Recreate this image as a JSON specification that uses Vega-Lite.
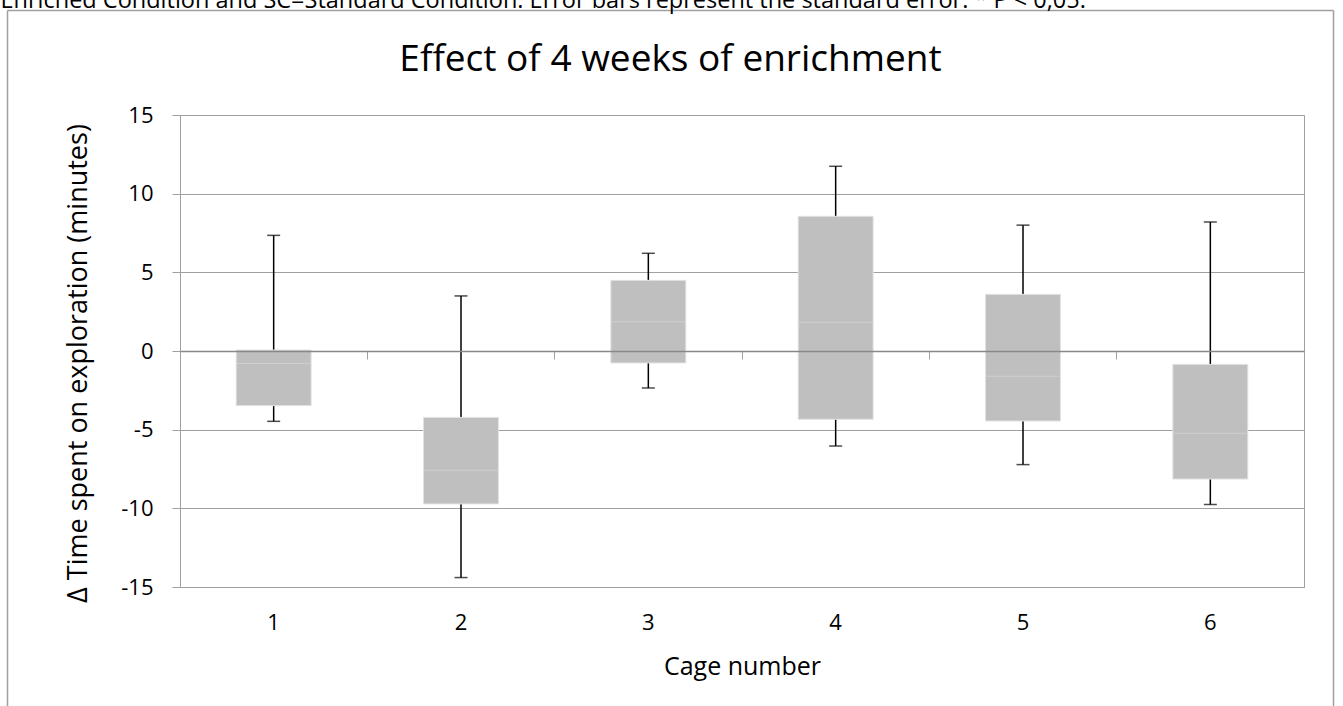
{
  "$schema": "https://vega.github.io/schema/vega-lite/v6.json",
  "width": 1124,
  "height": 472,
  "autosize": {"type": "none"},
  "padding": {"left": 180, "top": 115, "right": 39, "bottom": 119},
  "background": "white",
  "config": {
    "font": "Open Sans",
    "view": {"stroke": "#a0a0a0", "strokeWidth": 1},
    "axis": {"labelFont": "Open Sans", "titleFont": "Open Sans", "labelColor": "#000", "titleColor": "#000", "titleFontWeight": "normal"}
  },
  "data": {
    "values": [
      {"cage": 1, "min": -4.47, "q1": -3.47, "median": -0.79, "q3": 0.06, "max": 7.35},
      {"cage": 2, "min": -14.4, "q1": -9.72, "median": -7.58, "q3": -4.22, "max": 3.5},
      {"cage": 3, "min": -2.35, "q1": -0.76, "median": 1.86, "q3": 4.49, "max": 6.21},
      {"cage": 4, "min": -6.04, "q1": -4.34, "median": 1.82, "q3": 8.56, "max": 11.74},
      {"cage": 5, "min": -7.22, "q1": -4.45, "median": -1.61, "q3": 3.6, "max": 8.0},
      {"cage": 6, "min": -9.75, "q1": -8.14, "median": -5.23, "q3": -0.85, "max": 8.2}
    ]
  },
  "layer": [
    {
      "layer": [
        {
          "mark": {"type": "rule", "color": "#000", "strokeWidth": 1.5},
          "encoding": {
            "x": {"field": "cage", "type": "ordinal", "scale": {"paddingInner": 0, "paddingOuter": 0}, "axis": null},
            "y": {"field": "min", "type": "quantitative", "scale": {"domain": [-15, 15], "nice": false}, "axis": null},
            "y2": {"field": "max"}
          }
        },
        {
          "mark": {"type": "tick", "color": "#000", "thickness": 1.5, "size": 13},
          "encoding": {
            "x": {"field": "cage", "type": "ordinal", "scale": {"paddingInner": 0, "paddingOuter": 0}, "axis": null},
            "y": {"field": "max", "type": "quantitative", "axis": null}
          }
        },
        {
          "mark": {"type": "tick", "color": "#000", "thickness": 1.5, "size": 13},
          "encoding": {
            "x": {"field": "cage", "type": "ordinal", "scale": {"paddingInner": 0, "paddingOuter": 0}, "axis": null},
            "y": {"field": "min", "type": "quantitative", "axis": null}
          }
        },
        {
          "mark": {"type": "bar", "width": {"band": 0.4}, "fill": "#bfbfbf", "stroke": "#e2e2e2", "strokeWidth": 1},
          "encoding": {
            "x": {
              "field": "cage", "type": "ordinal",
              "scale": {"paddingInner": 0, "paddingOuter": 0},
              "axis": {
                "orient": "bottom", "labelAngle": 0, "ticks": false, "domain": false, "grid": false,
                "labelFontSize": 22, "labelPadding": 25,
                "title": "Cage number", "titleFontSize": 25, "titlePadding": 21
              }
            },
            "y": {
              "field": "q1", "type": "quantitative",
              "axis": {
                "orient": "left", "values": [-15, -10, -5, 0, 5, 10, 15],
                "labelExpr": "'' + datum.value",
                "grid": true, "gridColor": "#a0a0a0", "gridWidth": 1,
                "domainColor": "#a0a0a0", "tickColor": "#a0a0a0", "tickSize": 8,
                "labelFontSize": 22, "labelPadding": 19,
                "title": "Δ Time spent on exploration  (minutes)", "titleFontSize": 27, "titlePadding": 28, "titleY": 248
              }
            },
            "y2": {"field": "q3"}
          }
        },
        {
          "mark": {"type": "tick", "color": "#d6d6d6", "thickness": 1, "size": 74},
          "encoding": {
            "x": {
              "field": "cage", "type": "ordinal",
              "scale": {"paddingInner": 0, "paddingOuter": 0},
              "axis": {
                "orient": "bottom", "offset": -236, "bandPosition": 1,
                "labels": false, "title": null, "grid": false,
                "ticks": true, "tickSize": 8, "tickColor": "#a0a0a0", "tickWidth": 1,
                "domain": true, "domainColor": "#888888", "domainWidth": 1.5,
                "zindex": 1
              }
            },
            "y": {"field": "median", "type": "quantitative", "axis": null}
          }
        }
      ],
      "resolve": {"axis": {"x": "independent", "y": "independent"}}
    },
    {
      "mark": {"type": "point", "opacity": 0},
      "encoding": {
        "x": {
          "field": "cage", "type": "ordinal",
          "scale": {"type": "point", "range": [-173, 1153]},
          "axis": {
            "orient": "top", "offset": 105, "labels": false, "ticks": false, "grid": false,
            "domain": true, "domainColor": "#a0a0a0", "domainWidth": 1.5,
            "title": "Enriched Condition and SC=Standard Condition. Error bars represent the standard error. * P < 0,05.",
            "titleFontSize": 23.5, "titleX": -180, "titleY": -3, "titleAlign": "left", "titleBaseline": "alphabetic", "titleAngle": 0
          }
        },
        "y": {
          "field": "max", "type": "quantitative",
          "scale": {"range": [720, -105]},
          "axis": {
            "orient": "left", "offset": 173, "labels": false, "ticks": false, "grid": false, "title": null,
            "domain": true, "domainColor": "#a0a0a0", "domainWidth": 1.5
          }
        }
      }
    },
    {
      "mark": {"type": "point", "opacity": 0},
      "encoding": {
        "x": {
          "field": "cage", "type": "ordinal",
          "scale": {"type": "point", "range": [-173, 1153]},
          "axis": {
            "orient": "top", "offset": 105, "labels": false, "ticks": false, "grid": false, "domain": false,
            "title": "Effect of 4 weeks of enrichment",
            "titleFontSize": 37, "titleX": 490, "titleY": 60, "titleAlign": "center", "titleBaseline": "alphabetic", "titleAngle": 0
          }
        },
        "y": {
          "field": "min", "type": "quantitative",
          "scale": {"range": [720, -105]},
          "axis": {
            "orient": "right", "offset": 29, "labels": false, "ticks": false, "grid": false, "title": null,
            "domain": true, "domainColor": "#a0a0a0", "domainWidth": 1.5
          }
        }
      }
    }
  ],
  "resolve": {
    "scale": {"x": "independent", "y": "independent"},
    "axis": {"x": "independent", "y": "independent"}
  }
}
